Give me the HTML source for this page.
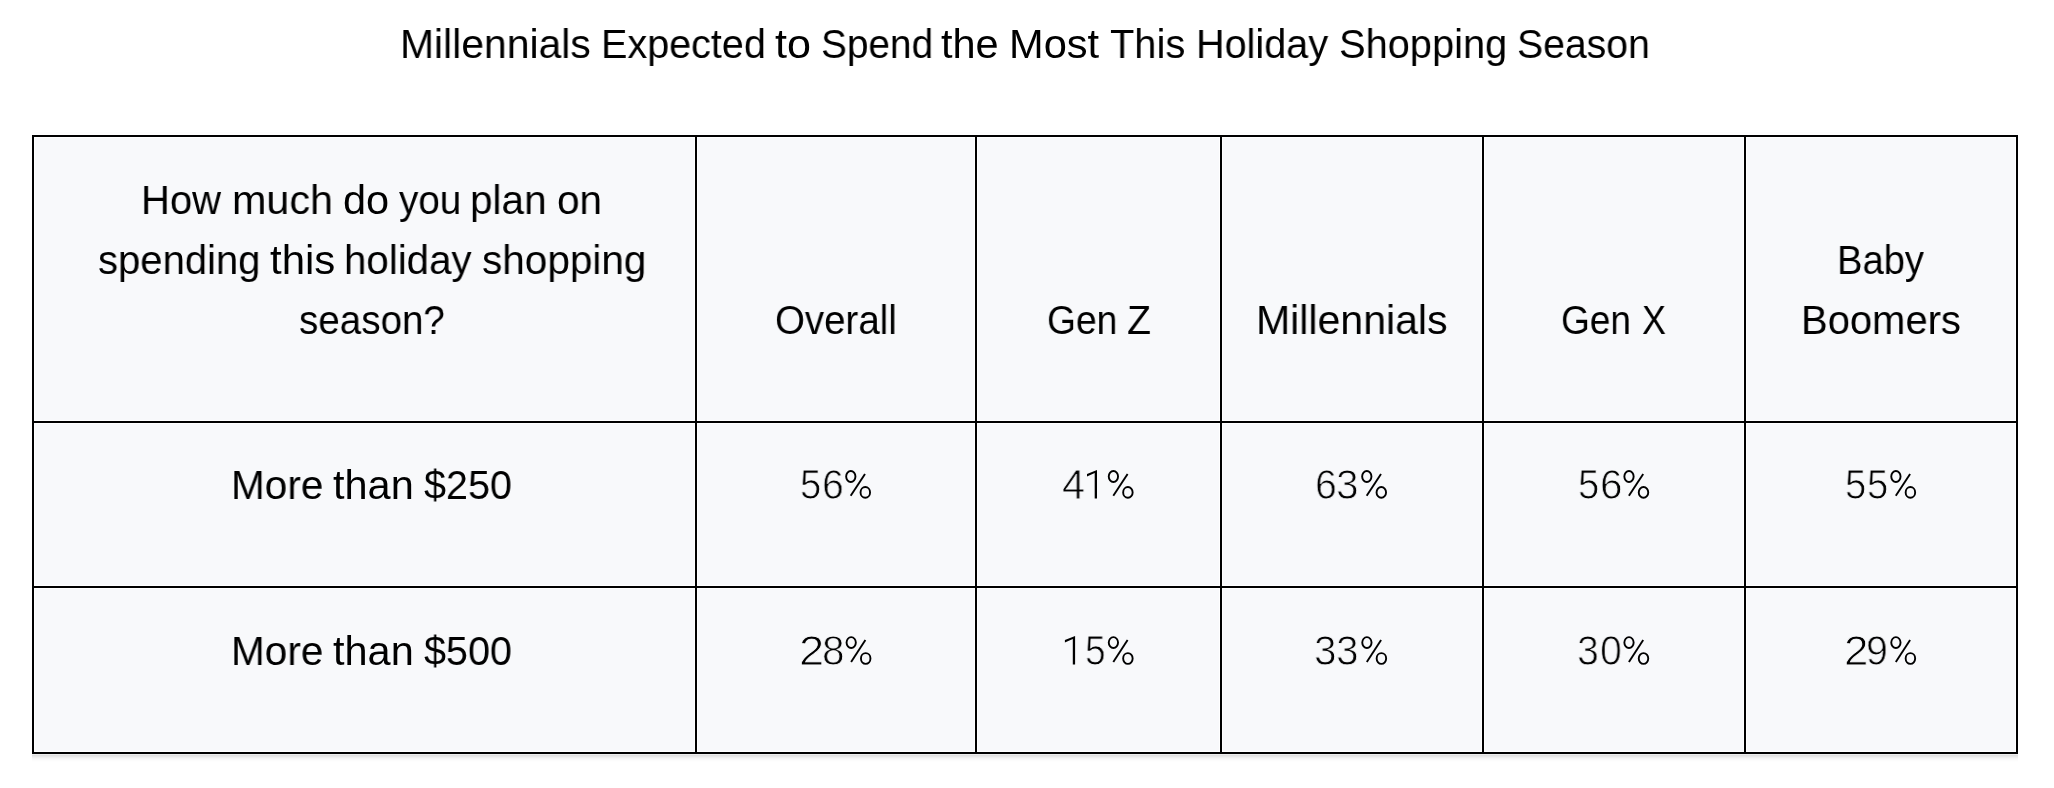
<!DOCTYPE html>
<html><head><meta charset="utf-8"><style>
html,body{margin:0;padding:0;background:#fff;width:2054px;height:788px;overflow:hidden;position:relative}
body{font-family:"Liberation Sans",sans-serif;color:#000}
.t{position:absolute;white-space:nowrap;font-size:41.5px;line-height:60px;transform-origin:0 0;will-change:transform}
.n{font-size:42.5px;-webkit-text-stroke:0.9px #f8f9fb}
.c{position:absolute;background:#f8f9fb}
.l{position:absolute;background:#000}
.sh{position:absolute}
</style></head><body>

<div class="sh" style="left:32px;top:754px;width:1986px;height:1px;background:#ececec"></div>
<div class="sh" style="left:32px;top:755px;width:1986px;height:1px;background:#e0e0e0"></div>
<div class="sh" style="left:32px;top:756px;width:1986px;height:1px;background:#e7e7e7"></div>
<div class="sh" style="left:32px;top:757px;width:1986px;height:1px;background:#efefef"></div>
<div class="sh" style="left:32px;top:758px;width:1986px;height:1px;background:#f5f5f5"></div>
<div class="sh" style="left:32px;top:759px;width:1986px;height:1px;background:#f9f9f9"></div>
<div class="sh" style="left:32px;top:760px;width:1986px;height:1px;background:#fcfcfc"></div>
<div class="sh" style="left:32px;top:761px;width:1986px;height:1px;background:#fefefe"></div>
<div class="sh" style="left:32px;top:132px;width:1986px;height:2px;background:#fdfdfd"></div>
<div class="c" style="left:35px;top:138px;width:659px;height:282px"></div>
<div class="c" style="left:35px;top:424px;width:659px;height:161px"></div>
<div class="c" style="left:35px;top:589px;width:659px;height:162px"></div>
<div class="c" style="left:698px;top:138px;width:276px;height:282px"></div>
<div class="c" style="left:698px;top:424px;width:276px;height:161px"></div>
<div class="c" style="left:698px;top:589px;width:276px;height:162px"></div>
<div class="c" style="left:978px;top:138px;width:241px;height:282px"></div>
<div class="c" style="left:978px;top:424px;width:241px;height:161px"></div>
<div class="c" style="left:978px;top:589px;width:241px;height:162px"></div>
<div class="c" style="left:1223px;top:138px;width:258px;height:282px"></div>
<div class="c" style="left:1223px;top:424px;width:258px;height:161px"></div>
<div class="c" style="left:1223px;top:589px;width:258px;height:162px"></div>
<div class="c" style="left:1485px;top:138px;width:258px;height:282px"></div>
<div class="c" style="left:1485px;top:424px;width:258px;height:161px"></div>
<div class="c" style="left:1485px;top:589px;width:258px;height:162px"></div>
<div class="c" style="left:1747px;top:138px;width:268px;height:282px"></div>
<div class="c" style="left:1747px;top:424px;width:268px;height:161px"></div>
<div class="c" style="left:1747px;top:589px;width:268px;height:162px"></div>
<div class="l" style="left:32px;top:135px;width:2px;height:619px"></div>
<div class="l" style="left:695px;top:135px;width:2px;height:619px"></div>
<div class="l" style="left:975px;top:135px;width:2px;height:619px"></div>
<div class="l" style="left:1220px;top:135px;width:2px;height:619px"></div>
<div class="l" style="left:1482px;top:135px;width:2px;height:619px"></div>
<div class="l" style="left:1744px;top:135px;width:2px;height:619px"></div>
<div class="l" style="left:2016px;top:135px;width:2px;height:619px"></div>
<div class="l" style="left:32px;top:135px;width:1986px;height:2px"></div>
<div class="l" style="left:32px;top:421px;width:1986px;height:2px"></div>
<div class="l" style="left:32px;top:586px;width:1986px;height:2px"></div>
<div class="l" style="left:32px;top:752px;width:1986px;height:2px"></div>
<div class="t" id="ti0" style="left:399.80px;top:14.00px;transform:scaleX(0.9846)">Millennials</div>
<div class="t" id="ti1" style="left:601.09px;top:14.00px;transform:scaleX(0.9529)">Expected</div>
<div class="t" id="ti2" style="left:774.69px;top:14.00px;transform:scaleX(1.0378)">to</div>
<div class="t" id="ti3" style="left:820.55px;top:14.00px;transform:scaleX(0.9341)">Spend</div>
<div class="t" id="ti4" style="left:941.30px;top:14.00px;transform:scaleX(0.9995)">the</div>
<div class="t" id="ti5" style="left:1008.92px;top:14.00px;transform:scaleX(1.0020)">Most</div>
<div class="t" id="ti6" style="left:1109.96px;top:14.00px;transform:scaleX(0.9594)">This</div>
<div class="t" id="ti7" style="left:1196.11px;top:14.00px;transform:scaleX(0.9540)">Holiday</div>
<div class="t" id="ti8" style="left:1339.14px;top:14.00px;transform:scaleX(0.9593)">Shopping</div>
<div class="t" id="ti9" style="left:1516.96px;top:14.00px;transform:scaleX(0.9437)">Season</div>
<div class="t" id="ha0" style="left:140.86px;top:170.00px;transform:scaleX(0.9644)">How</div>
<div class="t" id="ha1" style="left:231.95px;top:170.00px;transform:scaleX(0.9941)">much</div>
<div class="t" id="ha2" style="left:342.80px;top:170.00px;transform:scaleX(0.9982)">do</div>
<div class="t" id="ha3" style="left:399.00px;top:170.00px;transform:scaleX(0.9312)">you</div>
<div class="t" id="ha4" style="left:470.47px;top:170.00px;transform:scaleX(0.9757)">plan</div>
<div class="t" id="ha5" style="left:557.05px;top:170.00px;transform:scaleX(0.9764)">on</div>
<div class="t" id="hb0" style="left:97.56px;top:230.00px;transform:scaleX(0.9648)">spending</div>
<div class="t" id="hb1" style="left:269.53px;top:230.00px;transform:scaleX(1.0121)">this</div>
<div class="t" id="hb2" style="left:344.05px;top:230.00px;transform:scaleX(0.9701)">holiday</div>
<div class="t" id="hb3" style="left:482.33px;top:230.00px;transform:scaleX(0.9764)">shopping</div>
<div class="t" id="hc0" style="left:298.99px;top:290.00px;transform:scaleX(0.9300)">season?</div>
<div class="t" id="ov0" style="left:774.97px;top:290.00px;transform:scaleX(0.9265)">Overall</div>
<div class="t" id="gz0" style="left:1046.64px;top:290.00px;transform:scaleX(0.8983)">Gen</div>
<div class="t" id="gz1" style="left:1126.58px;top:290.00px;transform:scaleX(0.9471)">Z</div>
<div class="t" id="mi0" style="left:1255.78px;top:290.00px;transform:scaleX(0.9887)">Millennials</div>
<div class="t" id="gx0" style="left:1561.07px;top:290.00px;transform:scaleX(0.8929)">Gen</div>
<div class="t" id="gx1" style="left:1641.69px;top:290.00px;transform:scaleX(0.8637)">X</div>
<div class="t" id="ba0" style="left:1837.00px;top:230.00px;transform:scaleX(0.9200)">Baby</div>
<div class="t" id="bo0" style="left:1800.86px;top:290.00px;transform:scaleX(0.9632)">Boomers</div>
<div class="t" id="r10" style="left:231.00px;top:455.00px;transform:scaleX(0.9765)">More</div>
<div class="t" id="r11" style="left:332.52px;top:455.00px;transform:scaleX(0.9965)">than</div>
<div class="t" id="r12" style="left:423.56px;top:455.00px;transform:scaleX(0.9523)">&#36;250</div>
<div class="t n" id="n000" style="left:800.22px;top:455.00px;transform:scaleX(0.8995)">5</div>
<div class="t n" id="n001" style="left:821.99px;top:455.00px;transform:scaleX(0.9211)">6</div>
<div class="t n" id="n010" style="left:1061.72px;top:455.00px;transform:scaleX(0.9708)">4</div>
<div class="t n" id="n020" style="left:1315.04px;top:455.00px;transform:scaleX(0.9228)">6</div>
<div class="t n" id="n021" style="left:1336.30px;top:455.00px;transform:scaleX(0.9545)">3</div>
<div class="t n" id="n030" style="left:1577.85px;top:455.00px;transform:scaleX(0.8984)">5</div>
<div class="t n" id="n031" style="left:1599.57px;top:455.00px;transform:scaleX(0.9512)">6</div>
<div class="t n" id="n040" style="left:1844.85px;top:455.00px;transform:scaleX(0.8984)">5</div>
<div class="t n" id="n041" style="left:1867.03px;top:455.00px;transform:scaleX(0.8979)">5</div>
<div class="t n" id="n100" style="left:798.53px;top:621.00px;transform:scaleX(1.0643)">2</div>
<div class="t n" id="n101" style="left:821.68px;top:621.00px;transform:scaleX(0.9517)">8</div>
<div class="t n" id="n111" style="left:1085.10px;top:621.00px;transform:scaleX(0.8732)">5</div>
<div class="t n" id="n120" style="left:1314.47px;top:621.00px;transform:scaleX(0.9517)">3</div>
<div class="t n" id="n121" style="left:1336.30px;top:621.00px;transform:scaleX(0.9545)">3</div>
<div class="t n" id="n130" style="left:1576.99px;top:621.00px;transform:scaleX(0.9241)">3</div>
<div class="t n" id="n131" style="left:1599.63px;top:621.00px;transform:scaleX(0.9250)">0</div>
<div class="t n" id="n140" style="left:1843.58px;top:621.00px;transform:scaleX(1.0333)">2</div>
<div class="t n" id="n141" style="left:1866.22px;top:621.00px;transform:scaleX(0.9240)">9</div>
<div class="t" id="r20" style="left:231.00px;top:621.00px;transform:scaleX(0.9765)">More</div>
<div class="t" id="r21" style="left:332.52px;top:621.00px;transform:scaleX(0.9965)">than</div>
<div class="t" id="r22" style="left:423.56px;top:621.00px;transform:scaleX(0.9523)">&#36;500</div>
<svg style="position:absolute;left:0;top:0" width="2054" height="788" viewBox="0 0 2054 788"><g fill="none" stroke="#000" stroke-linejoin="bevel" stroke-width="1.9"><ellipse cx="850.80" cy="476.50" rx="4.65" ry="5.45"/><ellipse cx="865.30" cy="492.40" rx="4.75" ry="5.35"/><path d="M850.70 495.80L865.00 473.90"/><ellipse cx="1113.40" cy="476.50" rx="4.65" ry="5.45"/><ellipse cx="1127.90" cy="492.40" rx="4.75" ry="5.35"/><path d="M1113.30 495.80L1127.60 473.90"/><ellipse cx="1366.80" cy="476.50" rx="4.65" ry="5.45"/><ellipse cx="1381.30" cy="492.40" rx="4.75" ry="5.35"/><path d="M1366.70 495.80L1381.00 473.90"/><ellipse cx="1629.00" cy="476.50" rx="4.65" ry="5.45"/><ellipse cx="1643.50" cy="492.40" rx="4.75" ry="5.35"/><path d="M1628.90 495.80L1643.20 473.90"/><ellipse cx="1895.90" cy="476.50" rx="4.65" ry="5.45"/><ellipse cx="1910.40" cy="492.40" rx="4.75" ry="5.35"/><path d="M1895.80 495.80L1910.10 473.90"/><ellipse cx="851.20" cy="642.60" rx="4.65" ry="5.45"/><ellipse cx="865.70" cy="658.50" rx="4.75" ry="5.35"/><path d="M851.10 661.90L865.40 640.00"/><ellipse cx="1113.40" cy="642.60" rx="4.65" ry="5.45"/><ellipse cx="1127.90" cy="658.50" rx="4.75" ry="5.35"/><path d="M1113.30 661.90L1127.60 640.00"/><ellipse cx="1366.90" cy="642.60" rx="4.65" ry="5.45"/><ellipse cx="1381.40" cy="658.50" rx="4.75" ry="5.35"/><path d="M1366.80 661.90L1381.10 640.00"/><ellipse cx="1629.00" cy="642.60" rx="4.65" ry="5.45"/><ellipse cx="1643.50" cy="658.50" rx="4.75" ry="5.35"/><path d="M1628.90 661.90L1643.20 640.00"/><ellipse cx="1895.90" cy="642.60" rx="4.65" ry="5.45"/><ellipse cx="1910.40" cy="658.50" rx="4.75" ry="5.35"/><path d="M1895.80 661.90L1910.10 640.00"/><path stroke="none" fill="#000" d="M1097.00 470.10L1097.00 498.60L1094.70 498.60L1094.70 473.00L1087.00 476.40L1087.00 474.10Z"/><path stroke="none" fill="#000" d="M1075.10 636.10L1075.10 664.60L1072.80 664.60L1072.80 639.00L1064.90 642.40L1064.90 640.10Z"/></g></svg>
</body></html>
